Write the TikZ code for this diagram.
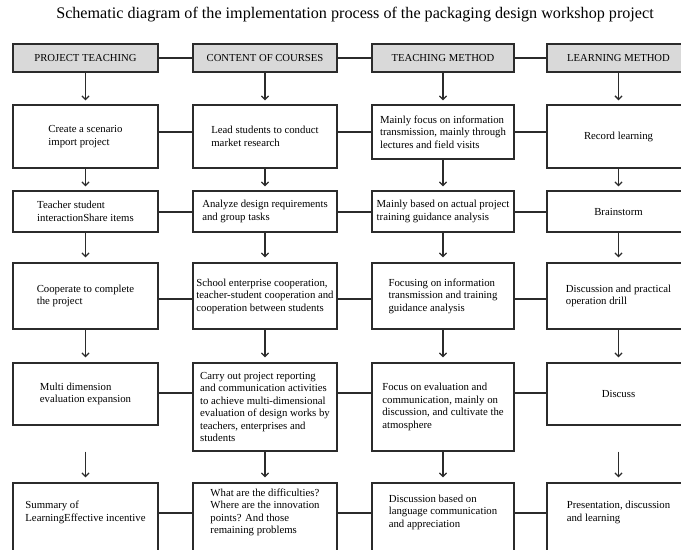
\documentclass[tikz,border=0pt]{standalone}
\usepackage{fontspec}
\setmainfont{Liberation Serif}
\usetikzlibrary{arrows.meta}
\definecolor{edge}{HTML}{2B2B2B}
\definecolor{headfill}{HTML}{D9D9D9}
\begin{document}
\begin{tikzpicture}[x=1bp,y=-1bp,
  box/.style={draw=edge,line width=1.3bp,fill=white,rectangle,inner sep=2bp,align=left,
    font=\fontsize{10.8}{12.6}\selectfont,text=black},
  head/.style={box,fill=headfill,align=center,font=\fontsize{10.7}{12}\selectfont,
    minimum height=28bp},
  txt/.style={inner sep=0pt,align=left,font=\fontsize{10.8}{12.6}\selectfont,text=black},
  wa/.style={minimum width=145bp},
  wb/.style={minimum width=144bp},
  wc/.style={minimum width=142bp},
  wd/.style={minimum width=143bp},
  conn/.style={draw=edge,line width=1.8bp},
  arr/.style={conn,line width=1.5bp,-{Straight Barb[length=3.5bp,width=7bp,line width=1.3bp]},shorten >=4bp},
]
\fill[white] (0,0) rectangle (681,550);
\useasboundingbox (0,0) rectangle (681,550);

\node[font=\fontsize{16.2}{19}\selectfont] (title) at (355,15)
  {Schematic diagram of the implementation process of the packaging design workshop project};

% headers
\node[head,wa] (h1) at (85.5,58) {PROJECT TEACHING};
\node[head,wb] (h2) at (265,58) {CONTENT OF COURSES};
\node[head,wc] (h3) at (443,58) {TEACHING METHOD};
\node[head,wd] (h4) at (618.5,58) {LEARNING METHOD};

% row 1
\node[box,wa,minimum height=63bp] (r1c1) at (85.5,136.5) {Create a scenario\\import project};
\node[box,wb,minimum height=63bp] (r1c2) at (265,136.5) {Lead students to conduct\\market research};
\node[box,wc,minimum height=54bp] (r1c3) at (443,132) {Mainly focus on information\\transmission, mainly through\\lectures and field visits};
\node[box,wd,minimum height=63bp] (r1c4) at (618.5,136.5) {Record learning};

% row 2
\node[box,wa,minimum height=41bp] (r2c1) at (85.5,211.5) {Teacher student\\interactionShare items};
\node[box,wb,minimum height=41bp] (r2c2) at (265,211.5) {Analyze design requirements\\and group tasks};
\node[box,wc,minimum height=41bp] (r2c3) at (443,211.5) {Mainly based on actual project\\training guidance analysis};
\node[box,wd,minimum height=41bp] (r2c4) at (618.5,211.5) {Brainstorm};

% row 3
\node[box,wa,minimum height=66bp] (r3c1) at (85.5,296) {Cooperate to complete\\the project};
\node[box,wb,minimum height=66bp] (r3c2) at (265,296) {School enterprise cooperation,\\teacher-student cooperation and\\cooperation between students};
\node[box,wc,minimum height=66bp] (r3c3) at (443,296) {Focusing on information\\transmission and training\\guidance analysis};
\node[box,wd,minimum height=66bp] (r3c4) at (618.5,296) {Discussion and practical\\operation drill};

% row 4
\node[box,wa,minimum height=62bp] (r4c1) at (85.5,394) {Multi dimension\\evaluation expansion};
\node[box,wb,minimum height=88bp] (r4c2) at (265,407) {Carry out project reporting\\and communication activities\\to achieve multi-dimensional\\evaluation of design works by\\teachers, enterprises and\\students};
\node[box,wc,minimum height=88bp] (r4c3) at (443,407) {Focus on evaluation and\\communication, mainly on\\discussion, and cultivate the\\atmosphere};
\node[box,wd,minimum height=62bp] (r4c4) at (618.5,394) {Discuss};

% row 5 (frames run past the bottom edge)
\node[box,wa,minimum height=77bp] (r5c1) at (85.5,521.5) {};
\node[box,wb,minimum height=77bp] (r5c2) at (265,521.5) {};
\node[box,wc,minimum height=77bp] (r5c3) at (443,521.5) {};
\node[box,wd,minimum height=77bp] (r5c4) at (618.5,521.5) {};
\node[txt] (t5c1) at ([yshift=-30bp]r5c1.north) {Summary of\\LearningEffective incentive};
\node[txt] (t5c2) at ([yshift=-30bp]r5c2.north) {What are the difficulties?\\Where are the innovation\\points? And those\\remaining problems};
\node[txt] (t5c3) at ([yshift=-30bp]r5c3.north) {Discussion based on\\language communication\\and appreciation};
\node[txt] (t5c4) at ([yshift=-30bp]r5c4.north) {Presentation, discussion\\and learning};

% horizontal connectors
\foreach \r/\y in {h/58,r1c/132,r2c/212,r3c/299,r4c/393,r5c/513}{
  \draw[conn] (\r1.east |- 0,\y) -- (\r2.west |- 0,\y);
  \draw[conn] (\r2.east |- 0,\y) -- (\r3.west |- 0,\y);
  \draw[conn] (\r3.east |- 0,\y) -- (\r4.west |- 0,\y);
}

% vertical arrows
\foreach \c in {1,2,3,4}{
  \draw[arr] (h\c) -- (r1c\c);
  \draw[arr] (r1c\c) -- (r2c\c);
  \draw[arr,shorten >=5bp] (r2c\c) -- (r3c\c);
  \draw[arr,shorten >=5bp] (r3c\c) -- (r4c\c);
}
\draw[arr,shorten >=5bp,shorten <=26bp] (r4c1) -- (r5c1);
\draw[arr,shorten >=5bp] (r4c2) -- (r5c2);
\draw[arr,shorten >=5bp] (r4c3) -- (r5c3);
\draw[arr,shorten >=5bp,shorten <=26bp] (r4c4) -- (r5c4);
\end{tikzpicture}
\end{document}
